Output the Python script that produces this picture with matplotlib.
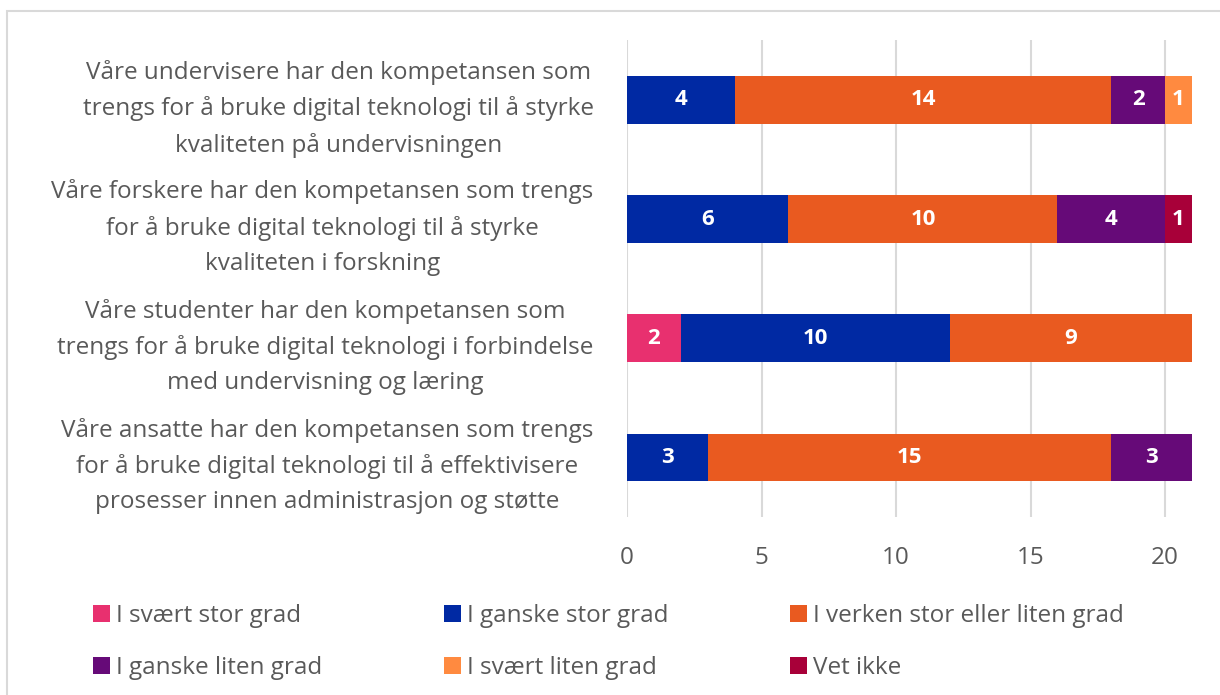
import numpy as np
import matplotlib.pyplot as plt
from matplotlib.patches import Rectangle

plt.rcParams['font.family'] = ['Open Sans', 'DejaVu Sans']

# data
kategorier = [
    "Våre undervisere har den kompetansen som\ntrengs for å bruke digital teknologi til å styrke\nkvaliteten på undervisningen",
    "Våre forskere har den kompetansen som trengs\nfor å bruke digital teknologi til å styrke\nkvaliteten i forskning",
    "Våre studenter har den kompetansen som\ntrengs for å bruke digital teknologi i forbindelse\nmed undervisning og læring",
    "Våre ansatte har den kompetansen som trengs\nfor å bruke digital teknologi til å effektivisere\nprosesser innen administrasjon og støtte",
]
svaert_stor = [0, 0, 2, 0]
ganske_stor = [4, 6, 10, 3]
verken = [14, 10, 9, 15]
ganske_liten = [2, 4, 0, 3]
svaert_liten = [1, 0, 0, 0]
vet_ikke = [0, 1, 0, 0]

serier = [
    ("I svært stor grad", svaert_stor, "#E8306F"),
    ("I ganske stor grad", ganske_stor, "#0029A3"),
    ("I verken stor eller liten grad", verken, "#E95A20"),
    ("I ganske liten grad", ganske_liten, "#660A78"),
    ("I svært liten grad", svaert_liten, "#FF8A40"),
    ("Vet ikke", vet_ikke, "#A80039"),
]

tekst = "#595959"

fig = plt.figure(figsize=(12.2, 6.95), dpi=100)
ax = fig.add_axes([0.514, 0.256, 0.463, 0.686])

y = np.arange(len(kategorier))
venstre = np.zeros(len(kategorier))
handles = {}
for navn, verdier, farge in serier:
    v = np.array(verdier, dtype=float)
    bars = ax.barh(y, v, left=venstre, height=0.4, color=farge, label=navn, zorder=3)
    handles[navn] = bars
    etiketter = [str(int(x)) if x > 0 else "" for x in v]
    ax.bar_label(bars, labels=etiketter, label_type='center', color='white',
                 fontsize=16, fontweight='bold')
    venstre += v

ax.set_xlim(0, 21)
ax.set_ylim(3.5, -0.5)
ax.set_xticks([0, 5, 10, 15, 20])
ax.set_yticks(y)
ax.set_yticklabels(kategorier, multialignment='center', fontsize=17.5, color=tekst,
                   linespacing=1.6)
ax.tick_params(axis='y', length=0, pad=24)
ax.tick_params(axis='x', length=0, pad=21, labelsize=17.5, labelcolor=tekst)
ax.grid(axis='x', color='#d9d9d9', linewidth=1.5, zorder=0)
for s in ax.spines.values():
    s.set_visible(False)

# legend, row-major order
rekke = ["I svært stor grad", "I ganske liten grad", "I ganske stor grad",
         "I svært liten grad", "I verken stor eller liten grad", "Vet ikke"]
leg = fig.legend([handles[n] for n in rekke], rekke, ncol=3, loc='upper left',
                 bbox_to_anchor=(0.066, 0.149), frameon=False, fontsize=17.5,
                 handlelength=0.7, handleheight=0.7, handletextpad=0.25,
                 columnspacing=5.0, labelspacing=1.15, borderpad=0)
for t in leg.get_texts():
    t.set_color(tekst)

# frame around the chart
fig.patches.append(Rectangle((7 / 1220, -0.1), 1.2, 1 - 11 / 695 + 0.1,
                             transform=fig.transFigure, fill=False,
                             edgecolor='#d9d9d9', linewidth=1.5))

fig.savefig("out.png", dpi=100)
